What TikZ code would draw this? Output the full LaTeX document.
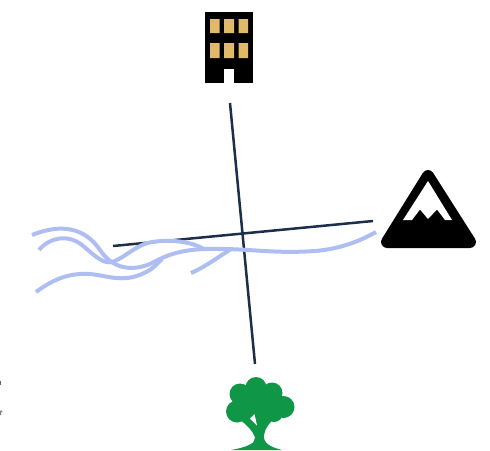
\documentclass[tikz,border=0pt]{standalone}
\definecolor{roadc}{HTML}{1C2E4A}
\definecolor{riverc}{HTML}{AEBEF2}
\definecolor{winc}{HTML}{E0B96B}
\definecolor{treec}{HTML}{0F9647}
\tikzset{
  road/.style={draw=roadc,line width=2.5pt},
  river/.style={draw=riverc,line width=4pt,line cap=butt},
  win/.style={fill=winc},
}
\begin{document}
\begin{tikzpicture}[x=1pt,y=-1pt]
\useasboundingbox (0,0) rectangle (490,450);
\clip (0,0) rectangle (490,450);
% connector end points
\coordinate (nA) at (230,103);
\coordinate (nB) at (255,364);
\coordinate (eA) at (113,246);
\coordinate (eB) at (373,221);
% roads
\draw[road] (nA) -- (nB);
\draw[road] (eA) -- (eB);
% rivers
\draw[river] (32,235) .. controls (62,223) and (85,228) .. (100,250)
  .. controls (112,268) and (130,272) .. (150,264)
  .. controls (165,256) and (178,250) .. (205,249)
  .. controls (250,248) and (270,254) .. (315,251)
  .. controls (340,249) and (360,241) .. (376,232);
\draw[river] (39,250) .. controls (50,237) and (68,234) .. (82,245)
  .. controls (95,256) and (103,264) .. (112,262)
  .. controls (125,258) and (135,245) .. (152,242)
  .. controls (172,239) and (192,242) .. (204,249);
\draw[river] (36,292) .. controls (55,278) and (70,273) .. (90,274)
  .. controls (110,276) and (125,284) .. (148,271)
  .. controls (155,267) and (158,263) .. (162,259);
\draw[river] (191,273) .. controls (205,267) and (220,256) .. (231,249);
% building
\fill[black] (205,12) rectangle (253,83);
\fill[win] (210,19) rectangle (219.5,33) (224,19) rectangle (234,33) (238.5,19) rectangle (248,33);
\fill[win] (210,43) rectangle (219.5,58) (224,43) rectangle (234,58) (238.5,43) rectangle (248,58);
\fill[white] (224,69) rectangle (234,83.5);
% mountain
\filldraw[black,line width=12pt,line join=round] (428,176) -- (387,242) -- (470,242) -- cycle;
\fill[white] (428,181) -- (403,220) -- (412,220) -- (420,209.5) -- (428,219) -- (437,209.5) -- (445,220) -- (452,220) -- cycle;
% tree
\fill[treec] (256,387.5) circle (10.5) (240,394) circle (10.5) (272,393) circle (10.5)
  (283.5,407) circle (11) (237,411.5) circle (11) (260,404) circle (20)
  (274,413) circle (9) (247,416) circle (7);
\fill[treec] (240,420) .. controls (246,424) and (252,430) .. (255,437)
  .. controls (256,443) and (248,447) .. (231,450) -- (282,450)
  .. controls (270,447) and (263,443) .. (264,435)
  .. controls (265,428) and (270,422) .. (276,417) -- (255,410) -- cycle;
\fill[white] (250,418.5) -- (254.5,414) -- (257,425.5) -- cycle;
% clipped marks at the left edge
\fill[black!60] (0,381) rectangle (1.4,385);
\fill[black!50] (0,410.5) rectangle (2.4,412) (0,412) rectangle (1,415);
\end{tikzpicture}
\end{document}
